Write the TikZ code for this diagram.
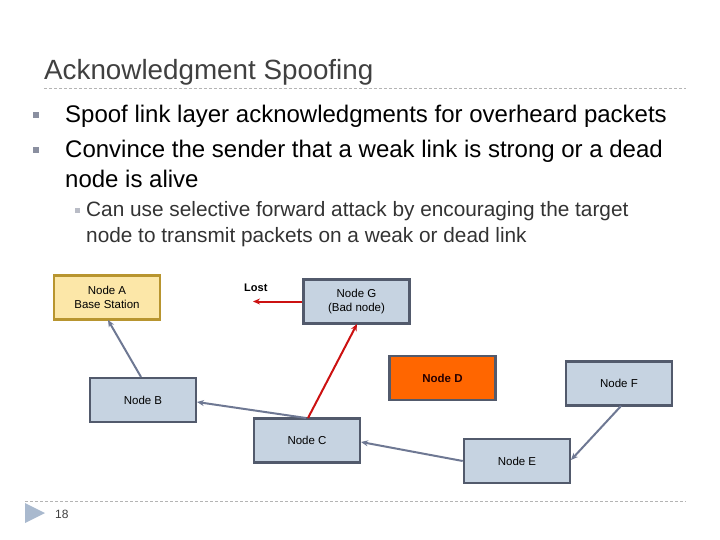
\documentclass[tikz,border=0pt]{standalone}
\usepackage{fontspec}
\setmainfont{Liberation Sans}
\usetikzlibrary{arrows.meta}
\definecolor{nodefill}{HTML}{C6D3E1}
\definecolor{nodeedge}{HTML}{525A6C}
\definecolor{afill}{HTML}{FCE7A8}
\definecolor{aedge}{HTML}{B8952F}
\definecolor{dfill}{HTML}{FF6600}
\definecolor{link}{HTML}{6E7893}
\definecolor{redlink}{HTML}{CC1111}
\definecolor{rulegray}{HTML}{B4B4B4}
\definecolor{bulletgray}{HTML}{8A8FA0}
\definecolor{tri}{HTML}{A9B9CE}
\tikzset{
  netnode/.style={draw=nodeedge, fill=nodefill, line width=2.6pt, minimum width=106pt, minimum height=44pt, inner sep=0pt, font=\fontsize{11.5}{13.5}\selectfont, align=center},
  linkarrow/.style={draw=link, line width=2pt, -{Stealth[length=7pt,width=6pt]}},
  redarrow/.style={draw=redlink, line width=2pt, -{Stealth[length=7pt,width=6pt]}},
  bullettext/.style={anchor=base west, inner sep=0pt, font=\fontsize{24}{28}\selectfont},
  subtext/.style={anchor=base west, inner sep=0pt, font=\fontsize{20.8}{24}\selectfont, text=black!80},
  sq/.style={fill=bulletgray, draw=none, minimum size=6pt, inner sep=0pt},
  rulestyle/.style={draw=rulegray, dashed, dash pattern=on 3pt off 2pt, line width=0.8pt}
}
\begin{document}
\begin{tikzpicture}[x=1pt,y=-1pt]
\useasboundingbox (0,0) rectangle (720,540);
% title
\node[anchor=base west, inner sep=0pt, font=\fontsize{27.8}{32}\selectfont, text=black!75] (title) at (44,80) {Acknowledgment Spoofing};
\draw[rulestyle] (44,88) -- (686,88);
% bullets
\node[sq] (b1) at (35.5,115.5) {};
\node[bullettext] (t1) at (65,123) {Spoof link layer acknowledgments for overheard packets};
\node[sq] (b2) at (35.5,150.5) {};
\node[bullettext] (t2) at (65,158) {Convince the sender that a weak link is strong or a dead};
\node[bullettext] (t3) at (65,188) {node is alive};
\node[sq, fill=bulletgray!60, minimum size=5pt] (b3) at (77.5,210.5) {};
\node[subtext] (t4) at (86,217) {Can use selective forward attack by encouraging the target};
\node[subtext] (t5) at (86,243) {node to transmit packets on a weak or dead link};
% nodes
\node[netnode, draw=aedge, fill=afill] (A) at (107,297.5) {Node A\\Base Station};
\node[netnode] (G) at (356.5,301.5) {Node G\\(Bad node)};
\node[netnode, fill=dfill, font=\fontsize{11.5}{13.5}\selectfont\bfseries, text=black!85!red] (D) at (442.5,378) {Node D};
\node[netnode] (F) at (619,383.5) {Node F};
\node[netnode] (B) at (143,400) {Node B};
\node[netnode] (C) at (307,440.5) {Node C};
\node[netnode] (E) at (517,461) {Node E};
\node[anchor=base west, inner sep=0pt, font=\fontsize{11}{13}\selectfont\bfseries] (lost) at (244,291) {Lost};
\coordinate (lostend) at (253,301.5);
% connectors
\draw[linkarrow] (141,377) -- (108,320);
\draw[linkarrow] (306,418) -- (197,402);
\draw[linkarrow] (E.west) -- (361,442);
\draw[linkarrow] (621,406) -- (571,460);
\draw[redarrow] (308,418) -- (357,324);
\draw[redarrow] (G.west) -- (lostend);
% footer
\draw[rulestyle] (25,501) -- (686,501);
\fill[tri] (25,503) -- (45,513) -- (25,523) -- cycle;
\node[anchor=base west, inner sep=0pt, font=\fontsize{12}{14}\selectfont, text=black!75] (pg) at (55,518) {18};
\end{tikzpicture}
\end{document}
